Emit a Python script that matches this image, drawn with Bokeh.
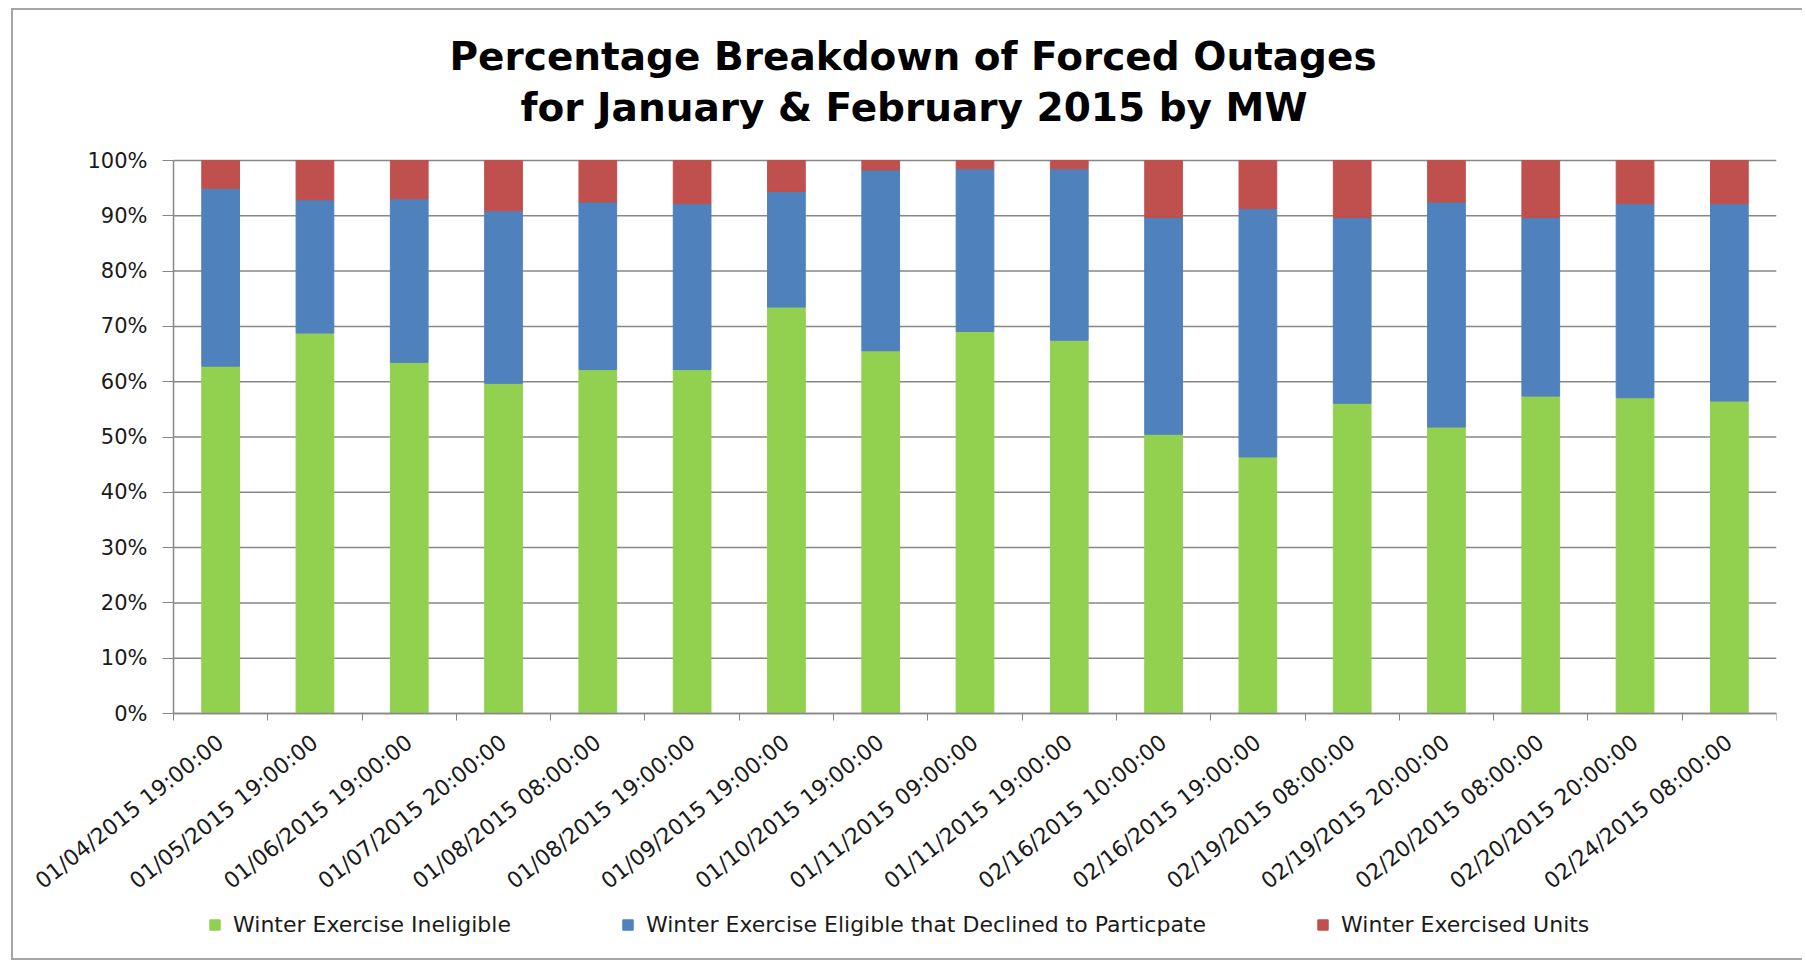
from bokeh.plotting import figure
from bokeh.models import (ColumnDataSource, FixedTicker, PrintfTickFormatter, Title,
                          Legend, LegendItem, Range1d)
from bokeh.embed import file_html
from bokeh.resources import INLINE

# ---- data (percent of forced-outage MW) ----
categories = [
    "01/04/2015 19:00:00", "01/05/2015 19:00:00", "01/06/2015 19:00:00",
    "01/07/2015 20:00:00", "01/08/2015 08:00:00", "01/08/2015 19:00:00",
    "01/09/2015 19:00:00", "01/10/2015 19:00:00", "01/11/2015 09:00:00",
    "01/11/2015 19:00:00", "02/16/2015 10:00:00", "02/16/2015 19:00:00",
    "02/19/2015 08:00:00", "02/19/2015 20:00:00", "02/20/2015 08:00:00",
    "02/20/2015 20:00:00", "02/24/2015 08:00:00",
]
ineligible = [62.8, 68.8, 63.5, 59.7, 62.2, 62.2, 73.5, 65.6, 69.1, 67.5,
              50.5, 46.4, 56.1, 51.8, 57.4, 57.1, 56.5]
declined = [32.2, 24.1, 29.6, 31.2, 30.3, 30.0, 20.9, 32.7, 29.4, 31.0,
            39.2, 44.9, 33.6, 40.7, 32.3, 35.1, 35.7]
exercised = [5.0, 7.1, 6.9, 9.1, 7.5, 7.8, 5.6, 1.7, 1.5, 1.5,
             10.3, 8.7, 10.3, 7.5, 10.3, 7.8, 7.8]
series_names = ["Winter Exercise Ineligible",
                "Winter Exercise Eligible that Declined to Particpate",
                "Winter Exercised Units"]
y_ticks = [0, 10, 20, 30, 40, 50, 60, 70, 80, 90, 100]
title_lines = ["Percentage Breakdown of Forced Outages",
               "for January & February 2015 by MW"]

colors = ["#92D050", "#4F81BD", "#C0504D"]
GREY = "#878787"

n = len(categories)

# layout: the frame is larger than the plotting area so that the axis labels
# and the legend (drawn inside it) are not clipped.
PLOT_W, PLOT_H = 1603, 553      # plotting area in px
PAD_L, PAD_B, PAD_T = 145, 235, 16   # extra frame room in px
x_lo, x_hi = 0.5, n + 0.5
x_start = x_lo - PAD_L * (x_hi - x_lo) / PLOT_W
y_start = -100.0 * PAD_B / PLOT_H
y_end = 100.0 + 100.0 * PAD_T / PLOT_H

xs = list(range(1, n + 1))
source = ColumnDataSource(dict(x=xs, ine=ineligible, dec=declined, exe=exercised))

p = figure(frame_width=PLOT_W + PAD_L, frame_height=PLOT_H + PAD_B + PAD_T,
           min_border_left=15, min_border_right=26,
           min_border_top=150 - PAD_T, min_border_bottom=10,
           x_range=Range1d(x_start, x_hi), y_range=Range1d(y_start, y_end),
           output_backend="svg", toolbar_location=None)
p.outline_line_color = None
p.background_fill_color = "white"
p.border_fill_color = "white"
p.xgrid.grid_line_color = None
p.ygrid.grid_line_color = None

# horizontal gridlines across the plotting area only
p.segment(x0=[x_lo] * len(y_ticks), x1=[x_hi] * len(y_ticks), y0=y_ticks, y1=y_ticks,
          line_color=GREY, line_width=1.5, level="underlay")

rs = p.vbar_stack(["ine", "dec", "exe"], x="x", width=0.4, color=colors,
                  source=source)

# x axis: sits at 0%, labels at centres, ticks at category boundaries
p.xaxis.fixed_location = 0
p.xaxis.bounds = (x_lo, x_hi)
p.xaxis.ticker = FixedTicker(ticks=xs, minor_ticks=[i + 0.5 for i in range(n + 1)])
p.xaxis.major_label_overrides = {x: c for x, c in zip(xs, categories)}
p.xaxis.major_tick_line_color = None
p.xaxis.major_tick_out = 0
p.xaxis.major_tick_in = 0
p.xaxis.minor_tick_line_color = GREY
p.xaxis.minor_tick_out = 7
p.xaxis.minor_tick_in = 0
p.xaxis.axis_line_color = GREY
p.xaxis.axis_line_width = 1.5
p.xaxis.major_label_orientation = 0.67
p.xaxis.major_label_standoff = 19
p.xaxis.major_label_text_font = "DejaVu Sans"
p.xaxis.major_label_text_font_size = "22px"
p.xaxis.major_label_text_color = "#1a1a1a"

# y axis: sits at the left edge of the plotting area
p.yaxis.fixed_location = x_lo
p.yaxis.bounds = (0, 100)
p.yaxis.ticker = FixedTicker(ticks=y_ticks)
p.yaxis.formatter = PrintfTickFormatter(format="%d%%")
p.yaxis.major_tick_line_color = GREY
p.yaxis.major_tick_out = 11
p.yaxis.major_tick_in = 0
p.yaxis.minor_tick_line_color = None
p.yaxis.axis_line_color = GREY
p.yaxis.axis_line_width = 1.5
p.yaxis.major_label_standoff = 15
p.yaxis.major_label_text_font = "DejaVu Sans"
p.yaxis.major_label_text_font_size = "21px"
p.yaxis.major_label_text_color = "#1a1a1a"

# title (two lines; later-added titles sit farther from the plot)
for line, standoff, off in [(title_lines[1], 62 - 2 * PAD_T, 347 + PAD_L),
                            (title_lines[0], -54 + 2 * PAD_T, 276 + PAD_L)]:
    p.add_layout(Title(text=line, align="left", offset=off, standoff=standoff,
                       text_font="DejaVu Sans", text_font_style="bold",
                       text_font_size="39px", text_color="black"), "above")

# legend below the category labels
legend = Legend(items=[LegendItem(label=name, renderers=[r])
                       for r, name in zip(rs, series_names)],
                location=(35 + PAD_L, 11), orientation="horizontal",
                border_line_color=None, background_fill_alpha=0,
                padding=0, margin=0, spacing=110, glyph_width=13, glyph_height=13,
                label_standoff=12, label_text_font="DejaVu Sans",
                label_text_font_size="22px", label_text_color="#1a1a1a")
p.add_layout(legend, "center")

p.styles = {"margin-left": "11px", "margin-top": "8px",
            "border-top": "2px solid #a6a6a6", "border-left": "2px solid #a6a6a6",
            "border-bottom": "2px solid #a6a6a6"}

open("out.html", "w").write(file_html(p, INLINE))
